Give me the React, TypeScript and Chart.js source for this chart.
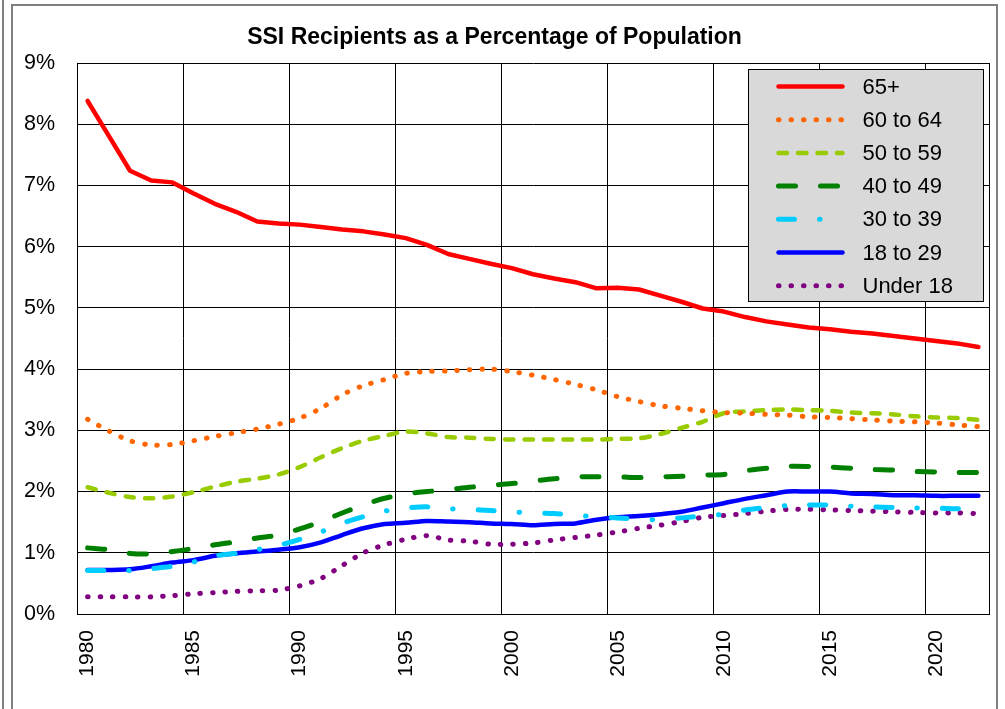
import React, { useEffect, useRef } from "react";
import { Chart, registerables } from "chart.js";

Chart.register(...registerables);

const years = [
  1980, 1981, 1982, 1983, 1984, 1985, 1986, 1987, 1988, 1989,
  1990, 1991, 1992, 1993, 1994, 1995, 1996, 1997, 1998, 1999,
  2000, 2001, 2002, 2003, 2004, 2005, 2006, 2007, 2008, 2009,
  2010, 2011, 2012, 2013, 2014, 2015, 2016, 2017, 2018, 2019,
  2020, 2021, 2022,
];

const age65 = [
  8.38, 7.81, 7.24, 7.08, 7.05, 6.87, 6.70, 6.57, 6.41, 6.38,
  6.36, 6.32, 6.28, 6.25, 6.20, 6.14, 6.03, 5.88, 5.80, 5.72,
  5.65, 5.55, 5.48, 5.42, 5.32, 5.33, 5.30, 5.20, 5.10, 4.99,
  4.94, 4.85, 4.78, 4.73, 4.68, 4.65, 4.61, 4.58, 4.54, 4.50,
  4.46, 4.42, 4.36,
];
const age6064 = [
  3.18, 2.99, 2.83, 2.76, 2.77, 2.83, 2.90, 2.96, 3.02, 3.10,
  3.20, 3.36, 3.58, 3.73, 3.83, 3.93, 3.96, 3.97, 3.99, 4.00,
  3.96, 3.90, 3.83, 3.75, 3.66, 3.55, 3.47, 3.40, 3.36, 3.32,
  3.29, 3.28, 3.26, 3.25, 3.22, 3.21, 3.19, 3.17, 3.15, 3.14,
  3.12, 3.09, 3.06,
];
const age5059 = [
  2.07, 1.98, 1.91, 1.89, 1.92, 1.99, 2.08, 2.16, 2.21, 2.28,
  2.40, 2.56, 2.71, 2.83, 2.91, 2.98, 2.95, 2.89, 2.88, 2.86,
  2.85, 2.85, 2.85, 2.85, 2.85, 2.86, 2.87, 2.94, 3.04, 3.14,
  3.28, 3.31, 3.33, 3.34, 3.33, 3.32, 3.29, 3.28, 3.26, 3.23,
  3.21, 3.20, 3.17,
];
const age4049 = [
  1.08, 1.05, 0.99, 0.98, 1.02, 1.07, 1.13, 1.18, 1.24, 1.29,
  1.39, 1.51, 1.65, 1.78, 1.89, 1.96, 2.00, 2.03, 2.07, 2.10,
  2.13, 2.17, 2.21, 2.24, 2.24, 2.24, 2.23, 2.24, 2.25, 2.27,
  2.28, 2.34, 2.38, 2.41, 2.41, 2.40, 2.38, 2.36, 2.35, 2.33,
  2.32, 2.31, 2.31,
];
const age3039 = [
  0.71, 0.71, 0.71, 0.74, 0.78, 0.85, 0.95, 0.99, 1.05, 1.12,
  1.22, 1.34, 1.48, 1.59, 1.68, 1.73, 1.75, 1.72, 1.71, 1.69,
  1.67, 1.65, 1.64, 1.61, 1.59, 1.57, 1.55, 1.54, 1.57, 1.60,
  1.63, 1.70, 1.74, 1.77, 1.78, 1.78, 1.76, 1.75, 1.74, 1.73,
  1.73, 1.72, 1.72,
];
const age1829 = [
  0.72, 0.72, 0.73, 0.78, 0.84, 0.88, 0.95, 0.99, 1.02, 1.05,
  1.09, 1.17, 1.29, 1.40, 1.47, 1.49, 1.52, 1.51, 1.50, 1.48,
  1.47, 1.45, 1.47, 1.48, 1.54, 1.58, 1.60, 1.63, 1.67, 1.74,
  1.81, 1.88, 1.94, 2.00, 2.00, 2.00, 1.97, 1.96, 1.94, 1.94,
  1.93, 1.93, 1.93,
];
const ageU18 = [
  0.28, 0.28, 0.28, 0.28, 0.30, 0.33, 0.35, 0.37, 0.38, 0.39,
  0.46, 0.58, 0.79, 1.00, 1.13, 1.22, 1.28, 1.21, 1.19, 1.14,
  1.14, 1.16, 1.21, 1.25, 1.29, 1.34, 1.40, 1.45, 1.51, 1.58,
  1.61, 1.64, 1.68, 1.71, 1.71, 1.70, 1.69, 1.68, 1.67, 1.66,
  1.65, 1.65, 1.64,
];

const seriesNames = ["65+", "60 to 64", "50 to 59", "40 to 49", "30 to 39", "18 to 29", "Under 18"];
const seriesColors = ["#FF0000", "#FF6600", "#99CC00", "#008000", "#00CCFF", "#0000FF", "#800080"];
const yTicks = [0, 1, 2, 3, 4, 5, 6, 7, 8, 9];

const FONT = "'Liberation Sans', Arial, Helvetica, sans-serif";
const title = "SSI Recipients as a Percentage of Population";

const legendPlugin = {
  id: "boxLegend",
  afterDatasetsDraw(chart: any) {
    const ctx = chart.ctx;
    const { top, right } = chart.chartArea;
    const w = 235;
    const h = 232;
    const lx = Math.round(right - 6 - w) + 0.5;
    const ly = Math.round(top + 6) + 0.5;
    ctx.save();
    ctx.fillStyle = "#D9D9D9";
    ctx.fillRect(lx, ly, w, h);
    ctx.strokeStyle = "#000";
    ctx.lineWidth = 1;
    ctx.setLineDash([]);
    ctx.strokeRect(lx, ly, w, h);
    chart.data.datasets.forEach((ds: any, i: number) => {
      const cy = ly + 17 + i * 33.2;
      ctx.save();
      ctx.strokeStyle = ds.borderColor;
      ctx.lineWidth = ds.borderWidth;
      ctx.lineCap = ds.borderCapStyle || "butt";
      ctx.setLineDash(ds.borderDash || []);
      ctx.beginPath();
      ctx.moveTo(lx + 30, cy);
      ctx.lineTo(lx + 94, cy);
      ctx.stroke();
      ctx.restore();
      ctx.fillStyle = "#000";
      ctx.font = `22px ${FONT}`;
      ctx.textAlign = "left";
      ctx.textBaseline = "middle";
      ctx.fillText(ds.label, lx + 114, cy + 1);
    });
    ctx.restore();
  },
};

const rightBorderPlugin = {
  id: "rightBorder",
  beforeDatasetsDraw(chart: any) {
    const ctx = chart.ctx;
    const { top, right, bottom } = chart.chartArea;
    ctx.save();
    ctx.strokeStyle = "#000";
    ctx.lineWidth = 1;
    ctx.beginPath();
    const x = Math.round(right) + 0.5;
    ctx.moveTo(x, Math.round(top));
    ctx.lineTo(x, Math.round(bottom) + 1);
    ctx.stroke();
    ctx.restore();
  },
};

export default function App() {
  const canvasRef = useRef<HTMLCanvasElement | null>(null);

  useEffect(() => {
    if (!canvasRef.current) return;
    const values = [age65, age6064, age5059, age4049, age3039, age1829, ageU18];
    const dashes: number[][] = [[], [0.5, 12], [8.5, 11], [17, 25], [16, 25, 0.5, 25], [], [0.5, 12]];
    const widths = [4.5, 5, 4.5, 5, 5, 4.5, 5];
    const tensions = [0, 0.3, 0.3, 0.3, 0.3, 0.3, 0.3];
    const datasets = seriesNames.map((name, i) => ({
      label: name,
      data: values[i],
      borderColor: seriesColors[i],
      backgroundColor: seriesColors[i],
      borderWidth: widths[i],
      borderDash: dashes[i],
      borderCapStyle: "round" as const,
      borderJoinStyle: "round" as const,
      pointRadius: 0,
      pointHoverRadius: 0,
      tension: tensions[i],
      fill: false,
    }));

    const chart = new Chart(canvasRef.current, {
      type: "line",
      data: { labels: years.map(String), datasets },
      options: {
        responsive: false,
        animation: false,
        events: [],
        layout: { padding: { left: 0, right: 16, top: 0, bottom: 0 } },
        plugins: {
          legend: { display: false },
          tooltip: { enabled: false },
          title: {
            display: true,
            text: title,
            color: "#000",
            font: { family: FONT, size: 23, weight: "bold", lineHeight: 1.2 },
            padding: { top: 23.5, bottom: 11.9 },
          },
        },
        scales: {
          x: {
            type: "category",
            offset: true,
            grid: {
              offset: true,
              drawTicks: false,
              lineWidth: 1,
              color: (c: any) => {
                const i = c.index;
                if (i === undefined || i >= years.length) return "rgba(0,0,0,0)";
                return years[i] % 5 === 0 ? "#000" : "rgba(0,0,0,0)";
              },
            },
            border: { display: true, color: "#000", width: 1 },
            ticks: {
              autoSkip: false,
              maxRotation: 90,
              minRotation: 90,
              padding: 16,
              color: "#000",
              font: { family: FONT, size: 21 },
              callback: (_v: any, i: number) => (years[i] % 5 === 0 ? String(years[i]) : ""),
            },
            afterFit: (s: any) => {
              s.height = 95;
              s.paddingRight = 0;
              s.paddingLeft = 0;
            },
          },
          y: {
            min: yTicks[0],
            max: yTicks[yTicks.length - 1],
            grid: { color: "#000", lineWidth: 1, drawTicks: false },
            border: { display: true, color: "#000", width: 1 },
            ticks: {
              stepSize: 1,
              padding: 22,
              color: "#000",
              font: { family: FONT, size: 21.5 },
              callback: (v: any) => `${v}%`,
            },
            afterFit: (s: any) => {
              s.width = 77;
            },
          },
        },
      },
      plugins: [rightBorderPlugin, legendPlugin],
    });
    return () => chart.destroy();
  }, []);

  return (
    <div
      style={{
        position: "fixed",
        left: 0,
        top: 0,
        width: 1005,
        height: 709,
        background: "#fff",
        overflow: "hidden",
      }}
    >
      <canvas ref={canvasRef} width={1005} height={709} style={{ position: "absolute", left: 0, top: 0 }} />
      <div style={{ position: "absolute", left: 2, top: 0, width: 2, height: 709, background: "#808080" }} />
      <div
        style={{
          position: "absolute",
          left: 11,
          top: 4,
          width: 983,
          height: 720,
          borderTop: "2px solid #808080",
          borderLeft: "2px solid #808080",
          borderRight: "2px solid #808080",
          pointerEvents: "none",
        }}
      />
    </div>
  );
}
